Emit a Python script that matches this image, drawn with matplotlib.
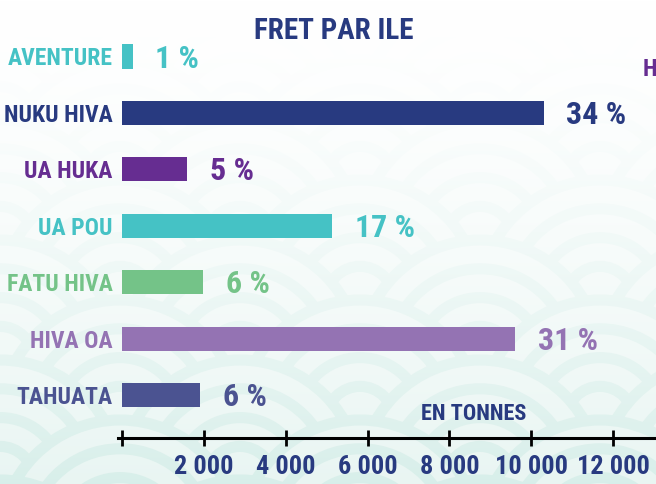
import numpy as np
import matplotlib.pyplot as plt
from matplotlib import font_manager
from matplotlib.patches import Circle

islands = ["AVENTURE", "NUKU HIVA", "UA HUKA", "UA POU", "FATU HIVA", "HIVA OA", "TAHUATA"]
tonnes = [250, 10300, 1590, 5130, 1980, 9610, 1910]
shares = ["1 %", "34 %", "5 %", "17 %", "6 %", "31 %", "6 %"]
colors = ["#45C2C5", "#283A80", "#662D91", "#45C2C5", "#74C388", "#9473B3", "#4B5391"]
ticks = [0, 2000, 4000, 6000, 8000, 10000, 12000]
tick_labels = ["", "2 000", "4 000", "6 000", "8 000", "10 000", "12 000"]

navy = "#283A80"

# police étroite si dispo
names = {f.name for f in font_manager.fontManager.ttflist}
fam, stretch = "DejaVu Sans", "normal"
for cand in ["Roboto Condensed", "Liberation Sans Narrow", "Open Sans Condensed"]:
    if cand in names:
        fam = cand
        break
else:
    if any(f.name == "DejaVu Sans" and f.stretch == "condensed" for f in font_manager.fontManager.ttflist):
        stretch = "condensed"
plt.rcParams["font.family"] = [fam, "DejaVu Sans"]
plt.rcParams["font.stretch"] = stretch
plt.rcParams["font.weight"] = "bold"

W, H = 656, 484
fig = plt.figure(figsize=(W / 100, H / 100), dpi=100)

# fond : vagues seigaiha tres claires
bg = fig.add_axes([0, 0, 1, 1], zorder=-5)
bg.set_xlim(0, W)
bg.set_ylim(0, H)
bg.axis("off")
R = 120
rows = np.arange(H + R, -R, -R / 2)
for k, cy in enumerate(rows):
    off = R if k % 2 else 0
    for cx in np.arange(-2 * R + off, W + 2 * R, 2 * R):
        for rr in [1.0, 0.76, 0.52, 0.28]:
            bg.add_patch(Circle((cx, cy), R * rr, facecolor="#E8F5F2",
                                edgecolor="#D6EEE9", lw=8, zorder=k))
fade = np.linspace(0, 1, 200).reshape(-1, 1) ** 1.5
white = np.ones((200, 1, 4))
white[..., 3] = 1 - fade[::-1] * 0.95
bg.imshow(white, extent=(0, W, 0, H), aspect="auto", zorder=1000, origin="lower")

ax = fig.add_axes([118.2 / W, 46 / H, (W - 118.2) / W, 438 / H])
ax.patch.set_alpha(0)
y = np.arange(len(islands))
ax.barh(y, tonnes, height=0.43, color=colors)
for yi, v, s, c in zip(y, tonnes, shares, colors):
    ax.annotate(s, (v, yi), xytext=(16.5, -1.5), textcoords="offset points",
                va="center", ha="left", fontsize=23, color=c)

ax.set_xlim(-100, 13050)
ax.set_ylim(6.76, -1.0)
ax.set_yticks(y)
ax.set_yticklabels(islands, fontsize=17)
for lab, c in zip(ax.get_yticklabels(), colors):
    lab.set_color(c)
ax.tick_params(axis="y", length=0, pad=4)
ax.set_xticks(ticks)
ax.set_xticklabels(tick_labels, fontsize=19, color=navy)
ax.tick_params(axis="x", direction="inout", length=12, width=2, pad=6, color="black")
for sp in ["left", "right", "top"]:
    ax.spines[sp].set_visible(False)
ax.spines["bottom"].set_linewidth(2.2)

ax.text(0.661, 0.04, "EN TONNES", transform=ax.transAxes, ha="center",
        va="baseline", fontsize=16, color=navy)

fig.text(334 / W, 1 - 31 / H, "FRET PAR ILE", ha="center", va="center",
         fontsize=21, color=navy)
fig.text(643 / W, 1 - 70 / H, "H", ha="left", va="center", fontsize=17, color="#662D91")

fig.savefig("out.png", dpi=100)
